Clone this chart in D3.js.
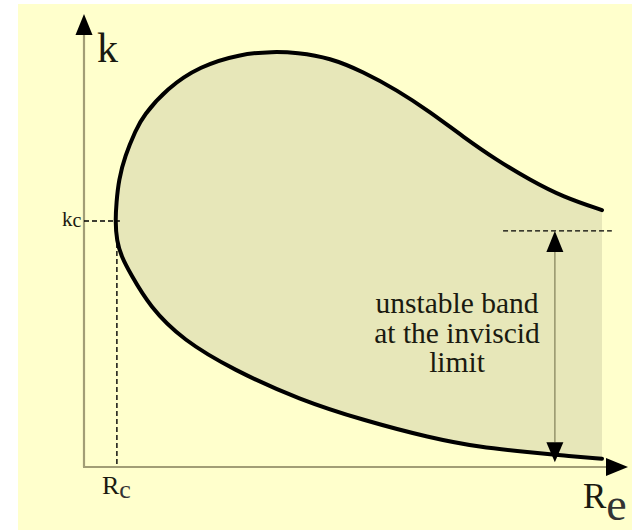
<!DOCTYPE html>
<html>
<head>
<meta charset="utf-8">
<script src="https://cdn.jsdelivr.net/npm/d3@7"></script>
<style>
  html, body { margin: 0; padding: 0; background: #ffffff; }
  svg { display: block; }
</style>
</head>
<body>
<svg id="chart" width="632" height="530"></svg>
<script>
// Neutral stability curve in (Re, k) units, traced from the upper branch end
// back through the nose at (Rc, kc) and out along the lower branch.
const upperRe = [10.0, 9.25, 8.61, 7.97, 7.32, 6.68, 6.04, 5.39, 4.75, 4.10, 3.65, 3.01, 2.24, 1.60, 1.14, 1.00, 0.79, 0.67, 0.625];
const upperK  = [4.94, 5.19, 5.52, 5.90, 6.35, 6.83, 7.25, 7.60, 7.87, 7.97, 7.99, 7.94, 7.71, 7.28, 6.75, 6.48, 5.98, 5.52, 5.08];
const lowerRe = [0.63, 0.73, 0.89, 1.27, 1.91, 2.88, 4.17, 5.39, 6.68, 7.64, 8.61, 9.25, 10.0];
const lowerK  = [4.35, 4.03, 3.73, 3.08, 2.44, 1.87, 1.29, 0.90, 0.56, 0.38, 0.28, 0.22, 0.16];

const critical = { Re: 0.605, k: 4.73 };          // nose of the curve
const inviscid = { Re: 9.09, kLow: 0.17, kHigh: 4.54, dashFrom: 8.09, dashTo: 10.19 };
const bandLines = ["unstable band", "at the inviscid", "limit"];

const svg = d3.select("#chart");
const x = d3.scaleLinear().domain([0, 10]).range([84, 602]);
const y = d3.scaleLinear().domain([0, 8]).range([467, 51]);

const axisColor = "#a29e76";
const bandColor = "#e7e7b9";

// page background
svg.append("rect").attr("x", 18).attr("y", 4).attr("width", 614).attr("height", 526).attr("fill", "#ffffcc");

const pts = upperRe.map((r, i) => [r, upperK[i]])
  .concat([[critical.Re, critical.k]])
  .concat(lowerRe.map((r, i) => [r, lowerK[i]]));

const line = d3.line().x(d => x(d[0])).y(d => y(d[1])).curve(d3.curveBasis);

// shaded unstable region, closed along the right edge
svg.append("path")
  .attr("d", line(pts) + "Z")
  .attr("fill", bandColor);

// axes
svg.append("line").attr("x1", x(0)).attr("y1", y(0)).attr("x2", x(0)).attr("y2", 32)
  .attr("stroke", axisColor).attr("stroke-width", 2.2);
svg.append("line").attr("x1", x(0) - 1).attr("y1", y(0)).attr("x2", 610).attr("y2", y(0))
  .attr("stroke", axisColor).attr("stroke-width", 2.2);
svg.append("path").attr("d", `M${x(0)},14 L${x(0) - 8.5},35 L${x(0) + 8.5},35 Z`).attr("fill", "#000");
svg.append("path").attr("d", `M628,${y(0)} L606,${y(0) - 9} L606,${y(0) + 9} Z`).attr("fill", "#000");

// critical point guides
const rcX = x(0.635);
svg.append("line").attr("x1", x(0)).attr("x2", rcX + 3)
  .attr("y1", y(critical.k)).attr("y2", y(critical.k))
  .attr("stroke", "#000").attr("stroke-width", 1.4).attr("stroke-dasharray", "5,3");
svg.append("line").attr("x1", rcX).attr("x2", rcX)
  .attr("y1", y(critical.k) + 22).attr("y2", y(0))
  .attr("stroke", "#000").attr("stroke-width", 1.4).attr("stroke-dasharray", "5,3");

// inviscid limit marker
svg.append("line").attr("x1", x(inviscid.dashFrom)).attr("x2", x(inviscid.dashTo))
  .attr("y1", y(inviscid.kHigh)).attr("y2", y(inviscid.kHigh))
  .attr("stroke", "#000").attr("stroke-width", 1.4).attr("stroke-dasharray", "5,3");
const ax = x(inviscid.Re);
svg.append("line").attr("x1", ax).attr("x2", ax)
  .attr("y1", y(inviscid.kHigh) + 18).attr("y2", y(inviscid.kLow) - 16)
  .attr("stroke", "#9a9870").attr("stroke-width", 1.6);
svg.append("path").attr("d", `M${ax},${y(inviscid.kHigh)} L${ax - 8.5},${y(inviscid.kHigh) + 21} L${ax + 8.5},${y(inviscid.kHigh) + 21} Z`).attr("fill", "#000");
svg.append("path").attr("d", `M${ax},${y(inviscid.kLow) + 4} L${ax - 8.5},${y(inviscid.kLow) - 16} L${ax + 8.5},${y(inviscid.kLow) - 16} Z`).attr("fill", "#000");

// the neutral curve itself
svg.append("path")
  .attr("d", line(pts))
  .attr("fill", "none")
  .attr("stroke", "#000")
  .attr("stroke-width", 4)
  .attr("stroke-linecap", "round");

// labels
const serif = "'Liberation Serif', 'Times New Roman', serif";
svg.append("text").attr("x", 97).attr("y", 62).attr("font-family", serif).attr("font-size", 42)
  .attr("fill", "#1a1a10").text("k");

const kc = svg.append("text").attr("x", 62).attr("y", 226).attr("font-family", serif)
  .attr("font-size", 21).attr("fill", "#1a1a10");
kc.append("tspan").text("k");
kc.append("tspan").attr("dy", 1).attr("font-size", 20).text("c");

const rc = svg.append("text").attr("x", 102).attr("y", 494).attr("font-family", serif)
  .attr("font-size", 26).attr("fill", "#1a1a10");
rc.append("tspan").text("R");
rc.append("tspan").attr("dy", 4).attr("font-size", 26).attr("fill", "#333").text("c");

const re = svg.append("text").attr("x", 583).attr("y", 508).attr("font-family", serif)
  .attr("font-size", 35).attr("fill", "#1a1a10");
re.append("tspan").text("R");
re.append("tspan").attr("dy", 12).attr("font-size", 46).attr("fill", "#333").text("e");

svg.append("g").selectAll("text").data(bandLines).join("text")
  .attr("x", 457).attr("y", (d, i) => 313 + i * 29.5)
  .attr("text-anchor", "middle")
  .attr("font-family", serif).attr("font-size", 29.5)
  .attr("fill", "#1a1a10")
  .text(d => d);
</script>
</body>
</html>
